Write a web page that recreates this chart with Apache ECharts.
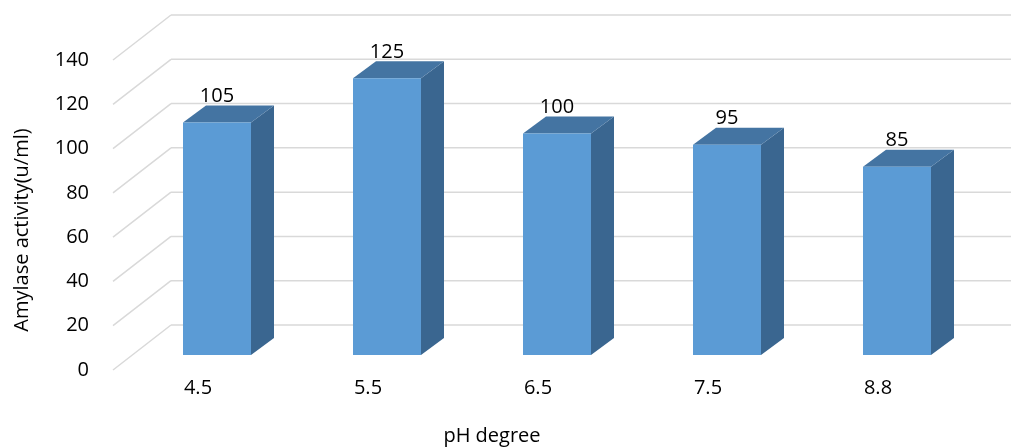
<!DOCTYPE html>
<html>
<head>
<meta charset="UTF-8">
<title></title>
<style>
	html, body { margin: 0; padding: 0; background: #fff; }
	#chart1 { width: 1011px; height: 448px; }
</style>
<script src="https://cdn.jsdelivr.net/npm/echarts@6/dist/echarts.min.js"></script>
</head>
<body>
<div id="chart1"></div>
<script>
	var categories = ['4.5', '5.5', '6.5', '7.5', '8.8'];
	var activity = [105, 125, 100, 95, 85];
	var yTicks = [0, 20, 40, 60, 80, 100, 120, 140];

	// perspective of the box: back wall offset, bar position and depth
	var wallDx = 58, wallDy = -45;
	var barDx = 19, barDy = -15;
	var sideDx = 23, sideDy = -17;

	var font = '"Open Sans", "Noto Sans", sans-serif';
	var fontSize = 20;

	function renderGrid(params, api) {
		var cs = params.coordSys;
		var v = api.value(0);
		var y = api.coord([0, v])[1];
		var x0 = cs.x;
		var x1 = cs.x + cs.width;
		var style = { stroke: '#d9d9d9', lineWidth: 1.5 };
		return {
			type: 'group',
			children: [
				{ type: 'line', shape: { x1: x0, y1: y, x2: x0 + wallDx, y2: y + wallDy }, style: style },
				{ type: 'line', shape: { x1: x0 + wallDx, y1: y + wallDy, x2: x1 + wallDx, y2: y + wallDy }, style: style }
			]
		};
	}

	function renderBar(params, api) {
		var idx = api.value(0);
		var top = api.coord([idx, api.value(1)]);
		var base = api.coord([idx, 0]);
		var w = api.size([1, 0])[0] * 0.4;
		var xl = top[0] - w / 2 + barDx;
		var xr = top[0] + w / 2 + barDx;
		var yt = top[1] + barDy;
		var yb = base[1] + barDy;
		return {
			type: 'group',
			children: [
				{ type: 'polygon', shape: { points: [[xr, yt], [xr + sideDx, yt + sideDy], [xr + sideDx, yb + sideDy], [xr, yb]] }, style: { fill: '#3a6690' } },
				{ type: 'polygon', shape: { points: [[xl, yt], [xl + sideDx, yt + sideDy], [xr + sideDx, yt + sideDy], [xr, yt]] }, style: { fill: '#4474a2' } },
				{ type: 'rect', shape: { x: xl, y: yt, width: xr - xl, height: yb - yt }, style: { fill: '#5b9bd5' } },
				{ type: 'text', style: { text: String(api.value(1)), x: (xl + xr) / 2, y: yt + sideDy + 1, align: 'center', verticalAlign: 'bottom', fill: '#000', font: fontSize + 'px ' + font } }
			]
		};
	}

	var myChart = echarts.init(document.getElementById('chart1'));
	myChart.setOption({
		animation: false,
		grid: { left: 113, right: 48, top: 60, bottom: 78 },
		xAxis: {
			type: 'category',
			data: categories,
			axisLine: { show: false },
			axisTick: { show: false },
			axisLabel: { margin: 8, color: '#000', fontSize: fontSize, fontFamily: font }
		},
		yAxis: {
			type: 'value',
			min: 0,
			max: 140,
			interval: 20,
			axisLine: { show: false },
			axisTick: { show: false },
			splitLine: { show: false },
			axisLabel: { margin: 24, color: '#000', fontSize: fontSize, fontFamily: font }
		},
		graphic: [
			{ type: 'text', x: 22, y: 230, rotation: Math.PI / 2, style: { text: 'Amylase activity(u/ml)', align: 'center', verticalAlign: 'middle', fill: '#000', font: fontSize + 'px ' + font } },
			{ type: 'text', x: 492, y: 436, style: { text: 'pH degree', align: 'center', verticalAlign: 'middle', fill: '#000', font: fontSize + 'px ' + font } }
		],
		series: [
			{
				type: 'custom',
				renderItem: renderGrid,
				data: yTicks.map(function (v) { return [v]; }),
				encode: { y: 0 },
				silent: true,
				z: 1
			},
			{
				type: 'custom',
				renderItem: renderBar,
				data: activity.map(function (v, i) { return [i, v]; }),
				encode: { x: 0, y: 1 },
				clip: false,
				z: 2
			}
		]
	});
</script>
</body>
</html>
